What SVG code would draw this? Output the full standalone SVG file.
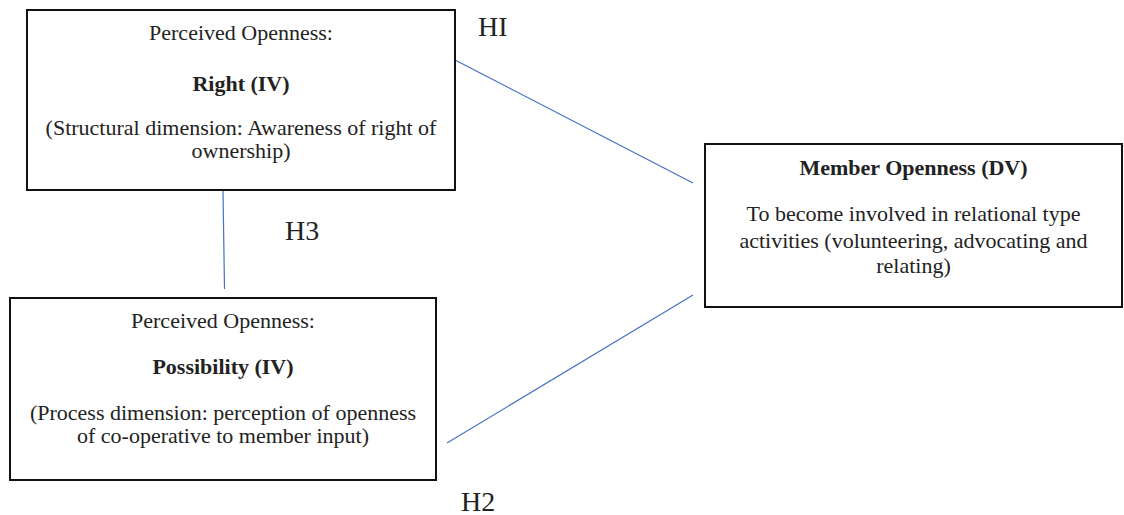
<svg xmlns="http://www.w3.org/2000/svg" width="1124" height="515" viewBox="0 0 1124 515">
<style>
.box{fill:#fff;stroke:#111;stroke-width:2}
.t{font-family:"Liberation Serif","Times New Roman",serif;font-size:22px;fill:#222;text-anchor:middle}
.b{font-weight:bold}
.h{font-family:"Liberation Serif","Times New Roman",serif;font-size:28px;fill:#222}
.c{stroke:#4472C4;stroke-width:1.2;fill:none}
</style>
<rect width="1124" height="515" fill="#fff"/>
<g id="connectors">
<line class="c" x1="455" y1="60" x2="693" y2="183"/>
<line class="c" x1="447" y1="443" x2="693" y2="295"/>
<line class="c" x1="223" y1="190" x2="224.5" y2="289"/>
</g>
<g id="right">
<rect class="box" x="27" y="10" width="428" height="180"/>
<text class="t" x="241" y="40">Perceived Openness:</text>
<text class="t b" x="241" y="91">Right (IV)</text>
<text class="t" x="241" y="135">(Structural dimension: Awareness of right of</text>
<text class="t" x="241" y="158">ownership)</text>
</g>
<g id="possibility">
<rect class="box" x="10" y="298" width="426" height="182"/>
<text class="t" x="223" y="328">Perceived Openness:</text>
<text class="t b" x="223" y="374">Possibility (IV)</text>
<text class="t" x="223" y="420">(Process dimension: perception of openness</text>
<text class="t" x="223" y="443">of co-operative to member input)</text>
</g>
<g id="member">
<rect class="box" x="705" y="144" width="417" height="163"/>
<text class="t b" x="913.5" y="175">Member Openness (DV)</text>
<text class="t" x="913.5" y="221">To become involved in relational type</text>
<text class="t" x="913.5" y="248">activities (volunteering, advocating and</text>
<text class="t" x="913.5" y="273">relating)</text>
</g>
<g id="labels">
<text class="h" x="478" y="36">HI</text>
<text class="h" x="285" y="240">H3</text>
<text class="h" x="461" y="511">H2</text>
</g>
</svg>
